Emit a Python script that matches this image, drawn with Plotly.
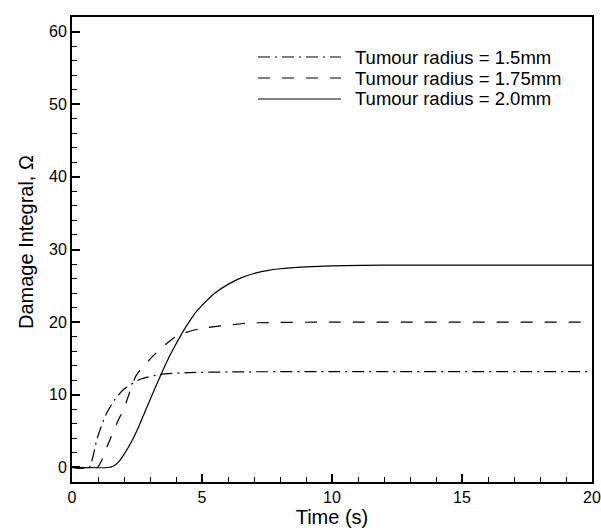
import plotly.graph_objects as go

# Data
t_15 = [0, 0.65, 0.96, 1.28, 1.64, 1.97, 2.6, 3.38, 4.5, 6.0, 10, 20]
d_15 = [0, 0, 3.9, 7.1, 9.3, 10.7, 12.1, 12.8, 13.05, 13.15, 13.2, 13.2]

t_175 = [0, 0.97, 1.41, 1.79, 1.99, 2.46, 3.13, 4.03, 4.92, 6.0, 6.97, 10, 20]
d_175 = [0, 0, 3.4, 6.6, 8.0, 12.6, 15.4, 18.1, 19.1, 19.6, 19.9, 20.0, 20.0]

t_20 = [0, 1.4, 1.6, 1.8, 2.0, 2.25, 2.5, 2.75, 3.0, 3.25, 3.5, 3.75, 4.0, 4.25, 4.5,
        4.75, 5.0, 5.5, 6.0, 6.5, 7.0, 7.5, 8.0, 9.0, 10.0, 12.0, 20.0]
d_20 = [0, 0, 0.2, 0.8, 1.8, 3.3, 5.1, 7.2, 9.3, 11.4, 13.4, 15.3, 17.0, 18.6, 20.0,
        21.3, 22.3, 24.0, 25.2, 26.1, 26.7, 27.1, 27.35, 27.6, 27.75, 27.85, 27.86]

labels = ["Tumour radius = 1.5mm", "Tumour radius = 1.75mm", "Tumour radius = 2.0mm"]
dashes = ["12px,5px,2px,5px", "12px,12px", "solid"]

FONT = "Liberation Sans, Arial"

fig = go.Figure()
series = [(t_15, d_15), (t_175, d_175), (t_20, d_20)]
for (tx, dy), lab, ds in zip(series, labels, dashes):
    fig.add_trace(go.Scatter(x=tx, y=dy, mode="lines", name=lab,
                             line=dict(color="black", width=1.2, dash=ds,
                                       shape="spline", smoothing=0.6),
                             showlegend=False))

# Custom legend (line samples + text), in paper coordinates
W, H = 601, 531
ml, mr, mt, mb = 72, 9, 17, 49
pw, ph = W - ml - mr, H - mt - mb
def px_x(p):
    return (p - ml) / pw
def px_y(p):
    return 1 - (p - mt) / ph

rows_y = [57, 78, 99]
for yy, lab, ds in zip(rows_y, labels, dashes):
    fig.add_shape(type="line", xref="paper", yref="paper",
                  x0=px_x(258), x1=px_x(341), y0=px_y(yy), y1=px_y(yy),
                  line=dict(color="black", width=1.2, dash=ds))
    fig.add_annotation(xref="paper", yref="paper", x=px_x(353), y=px_y(yy),
                       text=lab, showarrow=False, xanchor="left", yanchor="middle",
                       font=dict(family=FONT, size=18.5, color="black"))

# Y-axis title
fig.add_annotation(xref="paper", yref="paper", x=px_x(26), y=px_y(242),
                   text="Damage Integral, Ω", textangle=-90, showarrow=False,
                   xanchor="center", yanchor="middle",
                   font=dict(family=FONT, size=20, color="black"))

axis_font = dict(family=FONT, size=16, color="black")
fig.update_xaxes(range=[0, 20], dtick=5, tick0=0, showgrid=False, zeroline=False,
                 showline=True, linewidth=2, linecolor="black", mirror=True,
                 ticks="inside", ticklen=8, tickwidth=2, tickcolor="black",
                 minor=dict(dtick=1, ticks="inside", ticklen=5, tickwidth=1, tickcolor="black"),
                 tickfont=axis_font, automargin=False,
                 title=dict(text="Time (s)", font=dict(family=FONT, size=20, color="black"), standoff=0))
fig.update_yaxes(range=[-2, 62], dtick=10, tick0=0, showgrid=False, zeroline=False,
                 showline=True, linewidth=2, linecolor="black", mirror=True,
                 ticks="inside", ticklen=8, tickwidth=2, tickcolor="black",
                 minor=dict(dtick=2, ticks="inside", ticklen=5, tickwidth=1, tickcolor="black"),
                 tickfont=axis_font, automargin=False)

fig.update_layout(width=W, height=H, autosize=False, margin=dict(l=ml, r=mr, t=mt, b=mb),
                  paper_bgcolor="white", plot_bgcolor="white", showlegend=False)

fig.write_html("out.html")
